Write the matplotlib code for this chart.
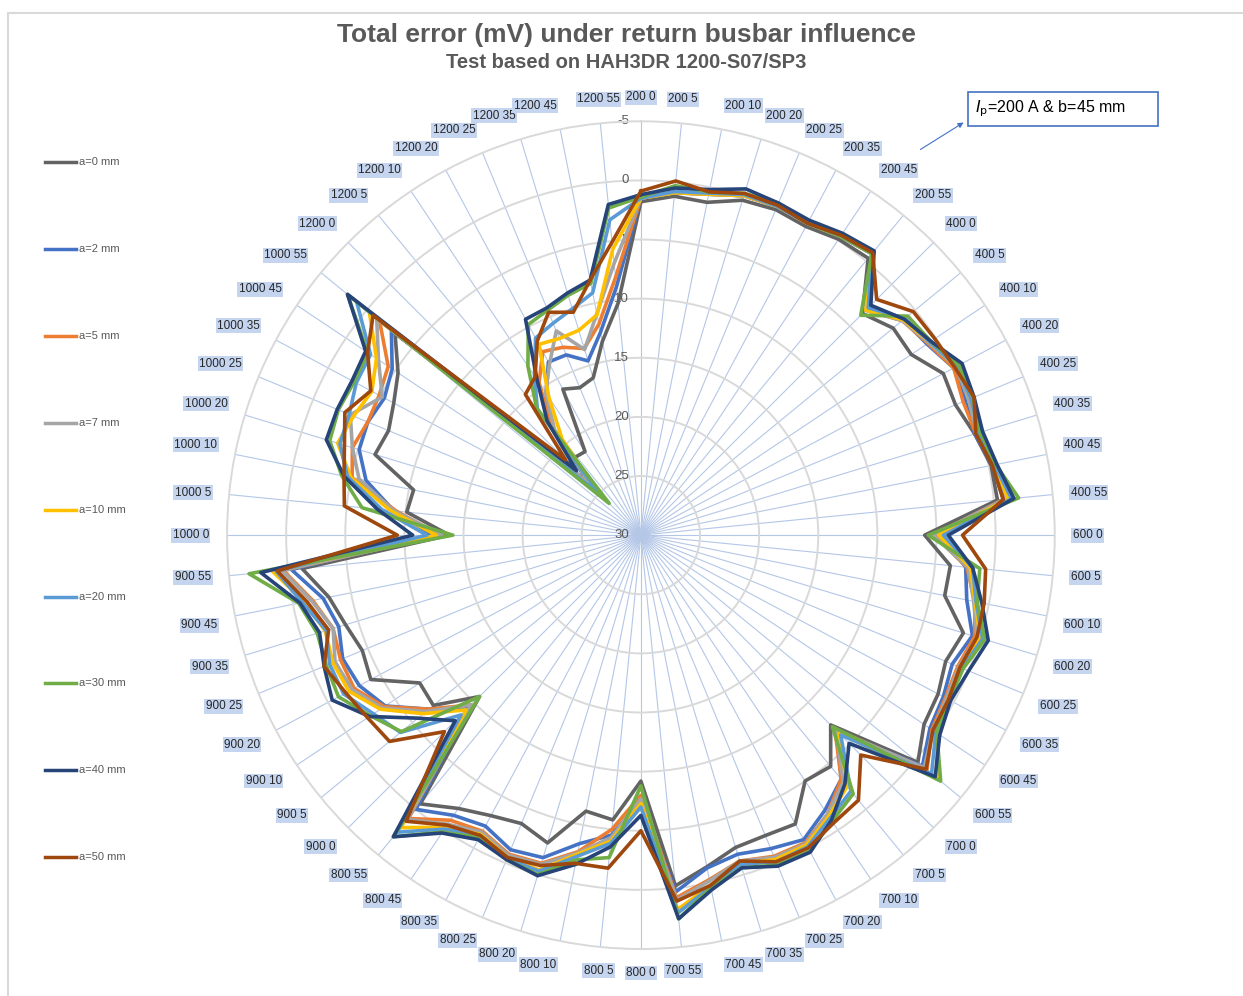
import numpy as np
import matplotlib
matplotlib.use('Agg')
import matplotlib.pyplot as plt
from matplotlib.lines import Line2D
from matplotlib.patches import Rectangle, FancyArrowPatch

plt.rcParams['font.family'] = ['Liberation Sans', 'DejaVu Sans']

# categories: primary current (A) and busbar offset (mm)
currents = [200, 400, 600, 700, 800, 900, 1000, 1200]
offsets = [0, 5, 10, 20, 25, 35, 45, 55]
categories = [f'{c} {o}' for c in currents for o in offsets]

series_names = ['a=0 mm', 'a=2 mm', 'a=5 mm', 'a=7 mm', 'a=10 mm',
                'a=20 mm', 'a=30 mm', 'a=40 mm', 'a=50 mm']
colors = ['#636363', '#4472C4', '#ED7D31', '#A5A5A5', '#FFC000',
          '#5B9BD5', '#70AD47', '#264478', '#9E480E']

# total error (mV), one value per category
a0 = [1.8, 1.2, 1.3, 0.4, 0.2, 0.4, -0.1, -0.3,
      3.5, 2.4, 2.5, 1.0, 1.2, 0.5, -0.2, -0.3,
      6.0, 3.7, 3.8, 1.5, 2.1, 1.5, 1.2, -0.3,
      7.3, 4.7, 5.0, 2.3, 2.5, 2.4, 1.4, 0.2,
      9.2, 5.8, 6.2, 2.8, 3.6, 3.1, 2.2, 0.6,
      10.7, 7.3, 7.5, 4.1, 4.5, 3.9, 3.1, 1.2,
      13.8, 10.1, 10.4, 6.5, 6.9, 6.3, 5.3, 3.1,
      21.5, 21.4, 21.5, 16.0, 16.5, 16.1, 13.3, 10.3]
a2 = [1.5, 0.9, 0.6, 0.0, -0.1, 0.1, -0.4, -0.8,
      3.0, 1.3, 0.9, 0.0, 0.3, 0.5, -0.3, -0.8,
      4.6, 2.4, 1.9, 0.7, 1.5, 1.0, 0.6, -0.8,
      6.5, 3.3, 2.0, 0.8, 1.3, 1.8, 1.3, -0.3,
      7.5, 4.5, 3.4, 1.5, 1.2, 2.1, 1.5, 0.0,
      9.5, 6.8, 4.0, 3.0, 2.7, 3.3, 2.6, 0.3,
      12.4, 9.0, 6.3, 5.1, 5.0, 5.4, 4.7, 2.7,
      23.8, 17.8, 15.6, 13.4, 13.5, 14.6, 12.5, 8.9]
a5 = [1.5, 0.9, 0.6, 0.0, -0.1, 0.1, -0.4, -0.8,
      3.1, 1.4, 0.8, 0.0, 0.5, 0.4, -0.4, -0.8,
      5.2, 2.3, 1.2, 0.5, 1.0, 0.8, 0.4, -1.3,
      6.8, 3.3, 1.6, 0.5, 0.6, 1.2, 0.3, -0.8,
      8.0, 5.0, 2.7, 1.0, 0.8, 1.6, 1.0, -1.0,
      9.7, 6.8, 3.9, 2.5, 2.5, 2.8, 1.7, -0.4,
      13.0, 9.2, 5.1, 4.5, 5.0, 4.9, 4.3, 1.4,
      24.2, 18.0, 14.5, 12.4, 12.8, 13.5, 11.8, 8.1]
a7 = [1.5, 0.9, 0.6, 0.0, -0.1, 0.1, -0.4, -0.8,
      3.1, 1.4, 0.7, -0.2, 0.0, 0.3, -0.4, -0.9,
      5.3, 2.2, 1.3, 0.3, 0.9, 0.7, 0.3, -1.0,
      6.7, 3.0, 1.6, 0.4, 0.5, 1.2, 0.2, -1.0,
      7.7, 4.3, 2.6, 0.9, 0.7, 1.5, 0.6, -1.1,
      9.7, 6.5, 3.7, 2.3, 2.0, 2.8, 1.6, -0.5,
      13.2, 9.0, 5.7, 4.5, 3.4, 5.2, 3.3, 1.1,
      24.0, 18.5, 15.5, 13.6, 11.3, 13.6, 10.9, 6.9]
a10 = [1.5, 0.9, 0.6, 0.0, -0.1, 0.1, -0.4, -0.8,
       3.1, 1.3, 0.6, -0.3, -0.2, 0.1, -0.5, -1.2,
       4.8, 2.0, 1.2, 0.0, 0.8, 0.5, 0.1, -2.5,
       6.3, 2.5, 1.4, 0.3, 0.3, 1.0, -0.2, -1.8,
       7.3, 4.0, 2.5, 0.4, 0.5, 1.3, 0.3, -2.0,
       9.1, 6.2, 3.5, 2.0, 1.8, 2.1, 1.0, -1.3,
       12.7, 8.7, 5.0, 3.2, 3.7, 4.2, 3.1, 0.3,
       24.8, 19.5, 16.0, 11.7, 12.0, 11.9, 11.0, 5.7]
a20 = [1.5, 0.8, 0.5, -0.1, -0.1, 0.1, -0.4, -0.8,
       2.8, 1.1, 0.6, -0.3, -0.2, 0.1, -0.5, -1.5,
       4.4, 1.8, 1.1, -0.2, 0.6, 0.4, 0.0, -1.8,
       6.1, 2.0, 1.2, 0.1, 0.1, 0.9, -0.3, -2.1,
       7.0, 3.8, 2.3, 0.3, 0.4, 1.2, 0.1, -2.5,
       8.5, 3.7, 2.8, 1.5, 1.5, 2.2, 0.8, -1.0,
       11.9, 8.0, 4.7, 3.4, 3.3, 2.7, 2.5, -1.1,
       25.0, 16.2, 13.8, 11.1, 10.6, 10.0, 9.1, 3.2]
a30 = [1.4, 0.3, 0.4, -0.2, -0.4, 0.1, -0.4, -0.8,
       3.7, 0.8, 0.5, -0.5, -0.4, 0.0, -0.6, -2.1,
       5.7, 1.2, 1.0, -0.4, 0.5, 0.4, -0.1, -2.8,
       7.1, 1.7, 0.9, -0.3, -0.2, 0.6, -0.4, -2.6,
       8.8, 2.6, 2.0, 0.0, 0.3, 1.0, -0.2, -3.0,
       10.7, 3.8, 2.5, 1.0, 1.2, 1.4, 0.5, -3.3,
       14.1, 6.3, 4.2, 2.5, 2.3, 2.5, 2.2, -2.1,
       26.2, 16.1, 12.8, 9.8, 9.4, 8.8, 8.3, 2.2]
a40 = [1.2, 0.5, 0.2, -0.6, -0.4, -0.2, -0.7, -1.1,
       2.5, 1.2, 0.5, -0.8, -0.5, -0.2, -0.7, -1.7,
       4.0, 1.8, 0.6, -0.7, 0.0, 0.3, -0.4, -2.2,
       5.1, 2.8, 1.0, -0.4, -0.3, 0.6, -0.6, -2.6,
       6.3, 3.5, 1.6, -0.1, 0.3, 0.8, -0.3, -3.0,
       7.8, 5.6, 2.4, 0.4, 1.0, 1.6, 0.6, -2.3,
       10.7, 7.6, 4.4, 2.2, 2.2, 2.3, 2.0, -2.1,
       22.3, 17.5, 14.2, 9.3, 9.2, 8.6, 8.0, 1.9]
a50 = [0.9, -0.1, 0.4, -0.2, -0.2, 0.1, -0.5, -0.9,
       1.8, 0.2, 0.1, -0.1, -0.5, 0.4, -0.3, -0.8,
       2.8, 0.7, 0.4, 0.3, 0.8, 0.5, 0.3, -1.2,
       3.7, 1.0, 0.7, 0.0, 0.1, 1.2, -0.2, -1.1,
       5.0, 1.7, 1.7, 0.8, 0.5, 1.2, 0.5, -1.3,
       6.5, 2.5, 2.2, 1.7, 1.0, 2.4, 1.2, -0.9,
       9.4, 4.8, 4.4, 3.8, 2.9, 4.1, 2.2, 0.7,
       21.0, 14.6, 13.9, 11.4, 9.6, 10.3, 8.0, 5.1]

all_series = [a0, a2, a5, a7, a10, a20, a30, a40, a50]

# radial axis runs from 30 (centre) to -5 (outer ring)
r_max, r_min = 30, -5

W, H = 1243, 996
fig = plt.figure(figsize=(W / 100, H / 100), dpi=100)

# chart area border
fig.add_artist(Rectangle((8 / W, -0.02), 1.2, 1 - 13 / H + 0.02,
                         transform=fig.transFigure, fill=False,
                         edgecolor='#D9D9D9', lw=1.5))

ax = fig.add_axes([0.1826, 0.0472, 0.666, 0.831], projection='polar')
ax.set_theta_zero_location('N')
ax.set_theta_direction(-1)
ax.set_ylim(0, r_max - r_min)

theta = np.arange(len(categories)) * 2 * np.pi / len(categories)

ax.set_xticks(theta)
ax.set_xticklabels([])
ax.set_yticks(np.arange(5, 35, 5))
ax.set_yticklabels([])
ax.tick_params(length=0)
ax.xaxis.grid(True, color='#B4C7E7', lw=0.8)
ax.yaxis.grid(True, color='#D9D9D9', lw=1.4)
ax.spines['polar'].set_color('#D9D9D9')
ax.spines['polar'].set_linewidth(1.4)

# ring labels
for v in range(r_min, r_max + 1, 5):
    ax.annotate(str(v), xy=(0, r_max - v), xytext=(-12, 0),
                textcoords='offset pixels', ha='right', va='center',
                fontsize=9.5, color='#595959', zorder=2.5)

# series
for vals, c in zip(all_series, colors):
    r = r_max - np.array(vals)
    ax.plot(np.append(theta, theta[0]), np.append(r, r[0]),
            color=c, lw=2.6, zorder=3)

# category labels outside the outer ring
r_lab = (r_max - r_min) * 432 / 414
for th, lab in zip(theta, categories):
    s, c = np.sin(th), np.cos(th)
    ha = 'left' if s > 0.15 else ('right' if s < -0.15 else 'center')
    va = 'bottom' if c > 0.15 else ('top' if c < -0.15 else 'center')
    ax.text(th, r_lab, lab, ha=ha, va=va, fontsize=8.5, color='#262626',
            clip_on=False,
            bbox=dict(boxstyle='square,pad=0.12', fc='#C5D5EF', ec='none'))

# legend on the left
for k, (name, c) in enumerate(zip(series_names, colors)):
    y = 1 - (162 + k * 86.9) / H
    fig.add_artist(Line2D([45 / W, 76 / W], [y, y], color=c, lw=2.5,
                          transform=fig.transFigure))
    fig.text(79 / W, y, name, ha='left', va='center', fontsize=8,
             color='#595959')

# titles
fig.text(626 / W, 1 - 35 / H, 'Total error (mV) under return busbar influence',
         ha='center', va='center', fontsize=19, fontweight='bold',
         color='#595959')
fig.text(626 / W, 1 - 62 / H, 'Test based on HAH3DR 1200-S07/SP3',
         ha='center', va='center', fontsize=14.5, fontweight='bold',
         color='#595959')

# annotation box + arrow
fig.add_artist(Rectangle((968 / W, 1 - 126 / H), 190 / W, 34 / H,
                         transform=fig.transFigure, facecolor='white',
                         edgecolor='#4472C4', lw=1.2))
fig.text(975 / W, 1 - 109 / H, r'$I_\mathrm{p}$=200 A & b=45 mm',
         ha='left', va='center', fontsize=11.5, color='black')
fig.add_artist(FancyArrowPatch((918 / W, 1 - 151 / H), (966 / W, 1 - 121 / H),
                               transform=fig.transFigure, arrowstyle='-|>',
                               mutation_scale=8, color='#4472C4', lw=0.8))

fig.savefig('out.png', dpi=100)
